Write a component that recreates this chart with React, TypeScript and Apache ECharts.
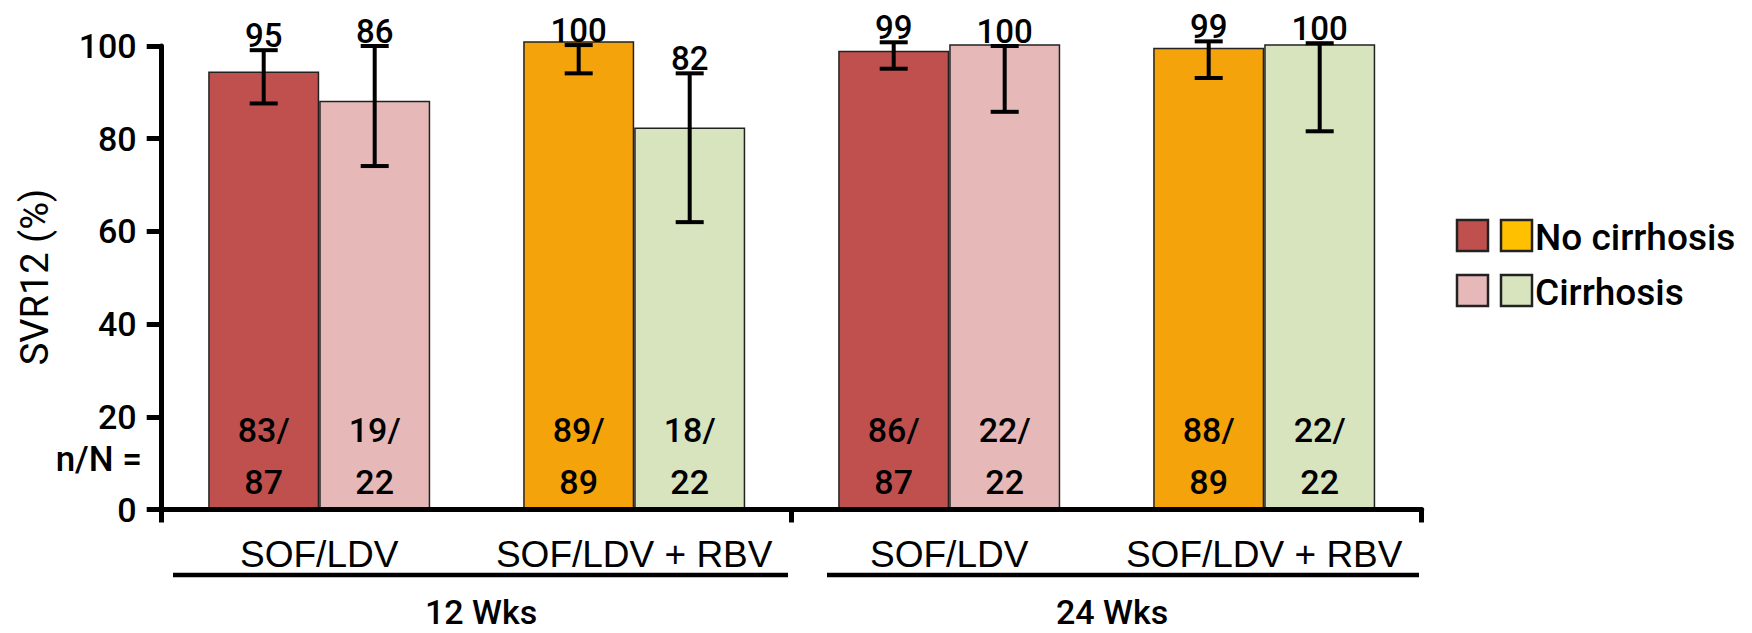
import React, { useEffect, useRef } from "react";
import * as echarts from "echarts";

// ---- data ----
const groupIds = ["g1", "g2", "g3", "g4"];
const groupLabels = ["SOF/LDV", "SOF/LDV + RBV", "SOF/LDV", "SOF/LDV + RBV"];
const durationLabels = ["12 Wks", "24 Wks"];
const yTicks = [0, 20, 40, 60, 80, 100];

const noCirrhosisBars = [94.5, 101, 99, 99.6];
const cirrhosisBars = [88.2, 82.4, 100.4, 100.4];

const noCirrhosisLow = [87.6, 94.1, 95.1, 93.1];
const noCirrhosisHigh = [99.1, 100.2, 100.8, 101];
const cirrhosisLow = [74.1, 62, 85.8, 81.6];
const cirrhosisHigh = [100, 94.1, 100, 100.6];

const noCirrhosisLabels = ["95", "100", "99", "99"];
const cirrhosisLabels = ["86", "82", "100", "100"];

const noCirrhosisN = [83, 89, 86, 88];
const noCirrhosisTotal = [87, 89, 87, 89];
const cirrhosisN = [19, 18, 22, 22];
const cirrhosisTotal = [22, 22, 22, 22];

// ---- styles ----
const noCirrhosisColors = ["#C0504D", "#F5A30A", "#C0504D", "#F5A30A"];
const cirrhosisColors = ["#E6B8B7", "#D7E4BD", "#E6B8B7", "#D7E4BD"];
const DIN = "Roboto";
const BAR_W = 111;

function errorSeries(low: number[], high: number[], labels: string[], offset: number) {
  return {
    type: "custom",
    z: 6,
    data: low.map((l, i) => [i, l, high[i]]),
    encode: { x: 0, y: [1, 2] },
    renderItem: (params: any, api: any) => {
      const idx = api.value(0);
      const lo = api.coord([idx, api.value(1)]);
      const hi = api.coord([idx, api.value(2)]);
      const x = lo[0] + offset;
      const half = 14;
      const style = { stroke: "#000", lineWidth: 4 };
      return {
        type: "group",
        children: [
          { type: "line", shape: { x1: x, y1: lo[1], x2: x, y2: hi[1] }, style },
          { type: "line", shape: { x1: x - half, y1: hi[1], x2: x + half, y2: hi[1] }, style },
          { type: "line", shape: { x1: x - half, y1: lo[1], x2: x + half, y2: lo[1] }, style },
          {
            type: "text",
            x,
            y: hi[1] + 2,
            style: {
              text: labels[params.dataIndex],
              align: "center",
              verticalAlign: "bottom",
              fontFamily: DIN,
              fontWeight: 500,
              fontSize: 33,
              fill: "#000",
            },
          },
        ],
      };
    },
  };
}

export default function App() {
  const ref = useRef<HTMLDivElement>(null);
  useEffect(() => {
    if (!ref.current) return;
    const chart = echarts.init(ref.current, null, { renderer: "svg" });
    const nLabel = (n: number[], t: number[]) => (p: any) => `${n[p.dataIndex]}/\n${t[p.dataIndex]}`;
    const barLabel = {
      show: true,
      position: "insideBottom",
      distance: 2,
      fontFamily: DIN,
      fontWeight: 500,
      fontSize: 34,
      lineHeight: 52,
      color: "#000",
    };
    const txt = (text: string, x: number, y: number, size: number, align = "center", weight = 500) => ({
      type: "text",
      x,
      y,
      style: { text, align, verticalAlign: "middle", fontFamily: DIN, fontWeight: weight, fontSize: size, fill: "#000" },
    });
    chart.setOption({
      animation: false,
      backgroundColor: "#fff",
      grid: { left: 161.7, right: 330.3, top: 46, bottom: 123.5, containLabel: false },
      xAxis: [
        {
          type: "category",
          data: groupIds,
          position: "bottom",
          z: 10,
          axisLine: { show: true, lineStyle: { color: "#000", width: 5 } },
          axisTick: { show: false },
          axisLabel: {
            interval: 0,
            formatter: (_v: string, i: number) => groupLabels[i],
            margin: 26,
            fontSize: 37,
            fontFamily: "Liberation Sans",
            color: "#000",
          },
        },
        {
          type: "category",
          data: durationLabels,
          position: "bottom",
          z: 10,
          axisLine: { show: false },
          axisTick: { show: true, length: 13, lineStyle: { color: "#000", width: 5 } },
          axisLabel: { show: false },
        },
      ],
      yAxis: {
        type: "value",
        min: yTicks[0],
        max: yTicks[yTicks.length - 1],
        interval: 20,
        z: 10,
        splitLine: { show: false },
        axisLine: { show: true, lineStyle: { color: "#000", width: 5 } },
        axisTick: { show: true, length: 15, lineStyle: { color: "#000", width: 5 } },
        axisLabel: { margin: 25, fontSize: 34, fontFamily: DIN, fontWeight: 500, color: "#000" },
      },
      series: [
        {
          type: "bar",
          name: "No cirrhosis",
          clip: false,
          barWidth: BAR_W,
          barGap: "0%",
          data: noCirrhosisBars.map((v, i) => ({ value: v, itemStyle: { color: noCirrhosisColors[i] } })),
          itemStyle: { borderColor: "#222", borderWidth: 1.5 },
          label: { ...barLabel, formatter: nLabel(noCirrhosisN, noCirrhosisTotal) },
        },
        {
          type: "bar",
          name: "Cirrhosis",
          clip: false,
          barWidth: BAR_W,
          barGap: "0%",
          data: cirrhosisBars.map((v, i) => ({ value: v, itemStyle: { color: cirrhosisColors[i] } })),
          itemStyle: { borderColor: "#222", borderWidth: 1.5 },
          label: { ...barLabel, formatter: nLabel(cirrhosisN, cirrhosisTotal) },
        },
        errorSeries(noCirrhosisLow, noCirrhosisHigh, noCirrhosisLabels, -BAR_W / 2),
        errorSeries(cirrhosisLow, cirrhosisHigh, cirrhosisLabels, BAR_W / 2),
      ],
      graphic: [
        { ...txt("SVR12 (%)", 35, 277, 38, "center", 400), rotation: Math.PI / 2 },
        txt("n/N =", 142, 459, 35, "right"),
        txt(durationLabels[0], 481, 612, 34),
        txt(durationLabels[1], 1112, 612, 34),
        { type: "line", shape: { x1: 173, y1: 575, x2: 788, y2: 575 }, style: { stroke: "#000", lineWidth: 4.5 } },
        { type: "line", shape: { x1: 827, y1: 575, x2: 1419, y2: 575 }, style: { stroke: "#000", lineWidth: 4.5 } },
        { type: "rect", shape: { x: 1457, y: 220, width: 31, height: 31 }, style: { fill: "#C0504D", stroke: "#222", lineWidth: 2.5 } },
        { type: "rect", shape: { x: 1501, y: 220, width: 31, height: 31 }, style: { fill: "#FFC000", stroke: "#222", lineWidth: 2.5 } },
        { type: "rect", shape: { x: 1457, y: 275, width: 31, height: 31 }, style: { fill: "#E6B8B7", stroke: "#222", lineWidth: 2.5 } },
        { type: "rect", shape: { x: 1501, y: 275, width: 31, height: 31 }, style: { fill: "#D7E4BD", stroke: "#222", lineWidth: 2.5 } },
        txt("No cirrhosis", 1535, 237, 37, "left"),
        txt("Cirrhosis", 1535, 292, 37, "left"),
      ],
    });
    return () => chart.dispose();
  }, []);
  return (
    <div
      ref={ref}
      style={{ position: "fixed", left: 0, top: 0, width: 1752, height: 633, background: "#fff" }}
    />
  );
}
